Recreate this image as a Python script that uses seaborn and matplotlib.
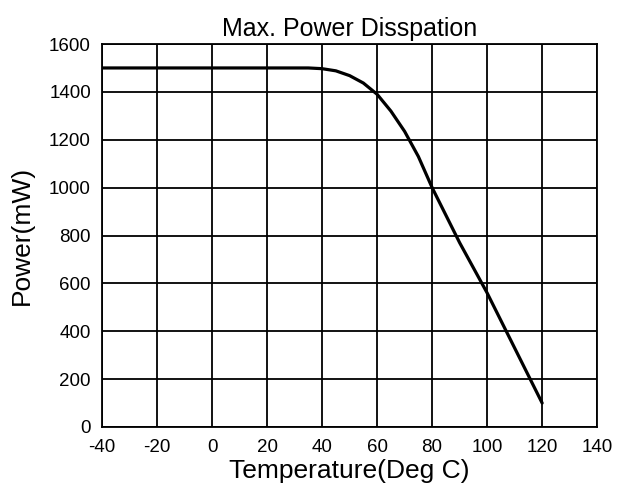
import numpy as np
import pandas as pd
import matplotlib
matplotlib.use("Agg")
import matplotlib.pyplot as plt
import seaborn as sns

# Curva de derating
temperatura = [-40, 35, 40, 45, 50, 55, 60, 65, 70, 75, 80, 90, 100, 110, 120]
potencia = [1500, 1500, 1497, 1488, 1468, 1437, 1390, 1320, 1235, 1130, 1000, 770, 560, 330, 100]

x_ticks = [-40, -20, 0, 20, 40, 60, 80, 100, 120, 140]
y_ticks = [0, 200, 400, 600, 800, 1000, 1200, 1400, 1600]

df = pd.DataFrame({"Temperatura": temperatura, "Potencia": potencia})

sns.set_style("white")
plt.rcParams['font.family'] = ['Liberation Sans', 'DejaVu Sans']
plt.rcParams['text.color'] = 'black'
plt.rcParams['axes.labelcolor'] = 'black'

fig = plt.figure(figsize=(6.24, 4.98), dpi=100)
ax = fig.add_axes([0.1635, 0.1426, 0.7935, 0.769])

sns.lineplot(data=df, x="Temperatura", y="Potencia", ax=ax, color="black", linewidth=2.3)

ax.set_xlim(-40, 140)
ax.set_ylim(0, 1600)
ax.set_xticks(x_ticks)
ax.set_yticks(y_ticks)
ax.set_xticklabels([str(t) for t in x_ticks])
ax.grid(True, color="black", linewidth=1.3)
ax.set_axisbelow(True)
for s in ax.spines.values():
    s.set_color("black")
    s.set_linewidth(1.3)
ax.tick_params(length=0, labelsize=13.5, colors="black")
ax.tick_params(axis="y", pad=8)
ax.tick_params(axis="x", pad=9)

ax.set_xlabel("Temperature(Deg C)", fontsize=19, labelpad=2, color="black")
ax.set_ylabel("Power(mW)", fontsize=19, labelpad=11, color="black")
ax.set_title("Max. Power Disspation", fontsize=18, pad=6, color="black")

fig.savefig("out.png", dpi=100)
